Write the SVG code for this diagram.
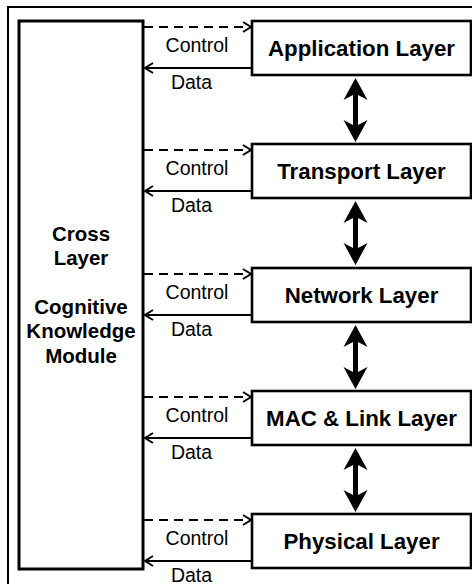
<svg xmlns="http://www.w3.org/2000/svg" width="472" height="587" viewBox="0 0 472 587">
  <style>
    .box { fill: #ffffff; stroke: #000000; stroke-width: 2.6; }
    .mod { fill: #ffffff; stroke: #000000; stroke-width: 3; }
    .lbl { font-family: "Liberation Sans", Arial, sans-serif; font-weight: bold; font-size: 22.3px; fill: #000; text-anchor: middle; }
    .mtx { font-family: "Liberation Sans", Arial, sans-serif; font-weight: bold; font-size: 20.5px; fill: #000; text-anchor: middle; }
    .sm { font-family: "Liberation Sans", Arial, sans-serif; font-size: 19.5px; fill: #000; text-anchor: middle; }
    .ctl { fill: none; stroke: #000; stroke-width: 2; stroke-dasharray: 9 6; }
    .dat { fill: none; stroke: #000; stroke-width: 2; }
    .dbl { fill: #000; stroke: none; }
  </style>
  <defs>
    <marker id="chev" markerUnits="userSpaceOnUse" markerWidth="14" markerHeight="14" viewBox="-10 -7 12 14" refX="0" refY="0" orient="auto">
      <path d="M-8,-5 L0,0 L-8,5" fill="none" stroke="#000" stroke-width="2"/>
    </marker>
    <path id="dblArrow" d="M0,0 L12,22 L2.5,17 L2.5,47 L12,42 L0,64 L-12,42 L-2.5,47 L-2.5,17 L-12,22 Z"/>
  </defs>

  <g id="frame">
    <path d="M8,584 V7 H472" fill="none" stroke="#000" stroke-width="2"/>
  </g>

  <g id="module">
    <rect class="mod" x="19" y="21" width="124" height="548"/>
    <text class="mtx" x="81" y="241">Cross</text>
    <text class="mtx" x="81" y="265">Layer</text>
    <text class="mtx" x="81" y="314">Cognitive</text>
    <text class="mtx" x="81" y="338">Knowledge</text>
    <text class="mtx" x="81" y="363">Module</text>
  </g>

  <g id="application">
    <rect class="box" x="252" y="21" width="219" height="54"/>
    <text class="lbl" x="361.5" y="56">Application Layer</text>
  </g>
  <g id="transport">
    <rect class="box" x="252" y="144" width="219" height="54"/>
    <text class="lbl" x="361.5" y="179">Transport Layer</text>
  </g>
  <g id="network">
    <rect class="box" x="252" y="268" width="219" height="54"/>
    <text class="lbl" x="361.5" y="303">Network Layer</text>
  </g>
  <g id="mac">
    <rect class="box" x="252" y="391" width="219" height="54"/>
    <text class="lbl" x="361.5" y="426">MAC &amp; Link Layer</text>
  </g>
  <g id="physical">
    <rect class="box" x="252" y="514" width="219" height="54"/>
    <text class="lbl" x="361.5" y="549">Physical Layer</text>
  </g>

  <g id="connectors">
    <!-- control (dashed) and data arrows -->
    <path class="ctl" d="M144,27 H251" marker-end="url(#chev)"/>
    <path class="dat" d="M251,68 H145" marker-end="url(#chev)"/>
    <text class="sm" x="197" y="52">Control</text>
    <text class="sm" x="191.5" y="89">Data</text>

    <path class="ctl" d="M144,150 H251" marker-end="url(#chev)"/>
    <path class="dat" d="M251,191 H145" marker-end="url(#chev)"/>
    <text class="sm" x="197" y="175">Control</text>
    <text class="sm" x="191.5" y="212">Data</text>

    <path class="ctl" d="M144,274 H251" marker-end="url(#chev)"/>
    <path class="dat" d="M251,315 H145" marker-end="url(#chev)"/>
    <text class="sm" x="197" y="299">Control</text>
    <text class="sm" x="191.5" y="336">Data</text>

    <path class="ctl" d="M144,397 H251" marker-end="url(#chev)"/>
    <path class="dat" d="M251,438 H145" marker-end="url(#chev)"/>
    <text class="sm" x="197" y="422">Control</text>
    <text class="sm" x="191.5" y="459">Data</text>

    <path class="ctl" d="M144,520 H251" marker-end="url(#chev)"/>
    <path class="dat" d="M251,561 H145" marker-end="url(#chev)"/>
    <text class="sm" x="197" y="545">Control</text>
    <text class="sm" x="191.5" y="582">Data</text>

    <!-- bidirectional layer arrows -->
    <use href="#dblArrow" class="dbl" transform="translate(355.5,78)"/>
    <use href="#dblArrow" class="dbl" transform="translate(355.5,201)"/>
    <use href="#dblArrow" class="dbl" transform="translate(355.5,325)"/>
    <use href="#dblArrow" class="dbl" transform="translate(355.5,448)"/>
  </g>
</svg>
